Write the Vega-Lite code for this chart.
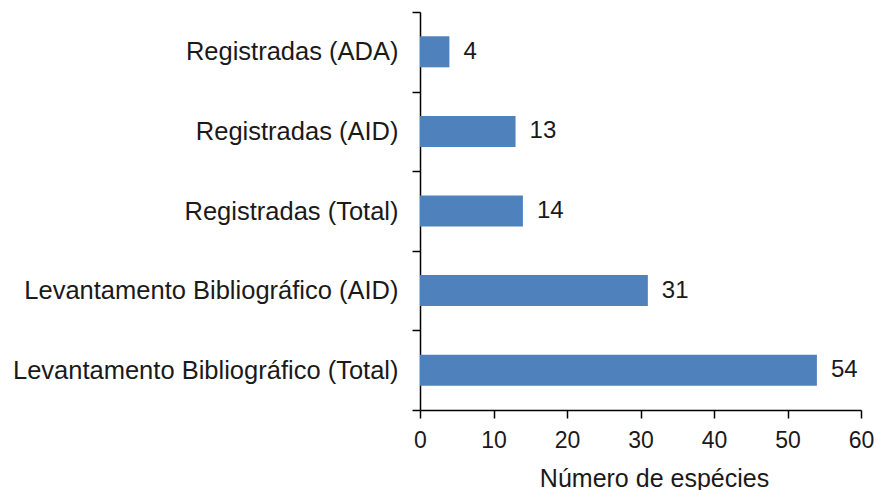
{
  "$schema": "https://vega.github.io/schema/vega-lite/v6.json",
  "autosize": {"type": "none"},
  "width": 441,
  "height": 398,
  "padding": {"left": 420, "top": 12, "right": 15, "bottom": 80},
  "background": "white",
  "config": {
    "view": {"stroke": null},
    "font": "Liberation Sans"
  },
  "data": {
    "values": [
      {"categoria": "Registradas (ADA)", "especies": 4},
      {"categoria": "Registradas (AID)", "especies": 13},
      {"categoria": "Registradas (Total)", "especies": 14},
      {"categoria": "Levantamento Bibliográfico (AID)", "especies": 31},
      {"categoria": "Levantamento Bibliográfico (Total)", "especies": 54}
    ]
  },
  "encoding": {
    "y": {
      "field": "categoria",
      "type": "nominal",
      "sort": null,
      "scale": {"paddingInner": 0, "paddingOuter": 0},
      "axis": {
        "title": null,
        "tickBand": "extent",
        "domainColor": "#000000",
        "domainWidth": 1.5,
        "tickColor": "#000000",
        "tickWidth": 1.5,
        "tickSize": 8,
        "labelPadding": 14,
        "labelFont": "Liberation Sans",
        "labelFontSize": 25.5,
        "labelColor": "#1a1a1a",
        "labelLimit": 600
      }
    },
    "x": {
      "field": "especies",
      "type": "quantitative",
      "scale": {"domain": [0, 60], "nice": false},
      "axis": {
        "title": "Número de espécies",
        "values": [0, 10, 20, 30, 40, 50, 60],
        "grid": false,
        "labelFlush": false,
        "labelOverlap": false,
        "domainColor": "#000000",
        "domainWidth": 1.5,
        "tickColor": "#000000",
        "tickWidth": 1.5,
        "tickSize": 8,
        "labelPadding": 11,
        "labelFont": "Liberation Sans",
        "labelFontSize": 23,
        "labelColor": "#1a1a1a",
        "labelFontWeight": "normal",
        "titleFont": "Liberation Sans",
        "titleFontSize": 25,
        "titleFontWeight": "normal",
        "titleColor": "#1a1a1a",
        "titlePadding": 14,
        "titleX": 234
      }
    }
  },
  "layer": [
    {
      "mark": {"type": "bar", "color": "#4F81BD", "height": {"band": 0.39}}
    },
    {
      "mark": {
        "type": "text",
        "align": "left",
        "baseline": "middle",
        "dx": 14,
        "font": "Liberation Sans",
        "fontSize": 24,
        "color": "#1a1a1a"
      },
      "encoding": {"text": {"field": "especies", "type": "quantitative"}}
    }
  ]
}
